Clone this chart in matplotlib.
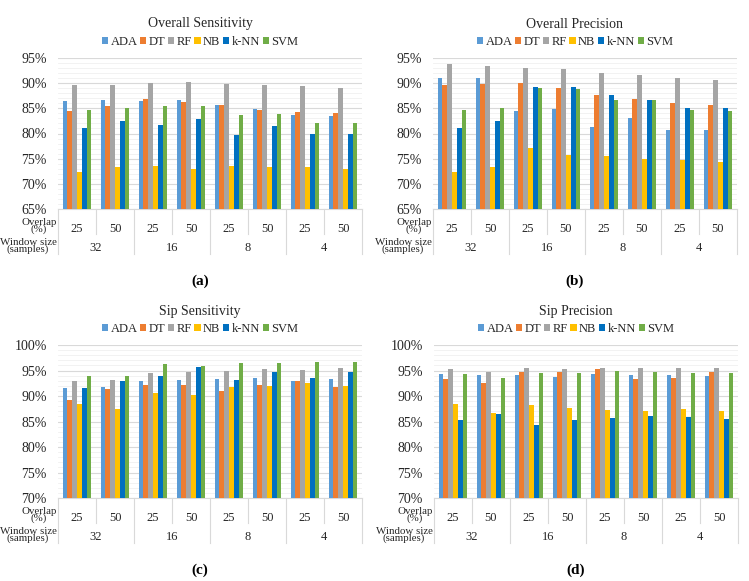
import numpy as np
import matplotlib.pyplot as plt
from matplotlib.ticker import MultipleLocator, FuncFormatter

plt.rcParams["font.family"] = ["Liberation Serif", "DejaVu Serif"]

# -----------------------------
# Data (values in %)
# -----------------------------
classifiers = ["ADA", "DT", "RF", "NB", "k-NN", "SVM"]
colors = ["#5B9BD5", "#ED7D31", "#A5A5A5", "#FFC000", "#0070C0", "#70AD47"]
overlaps = ["25", "50", "25", "50", "25", "50", "25", "50"]
window_sizes = ["32", "16", "8", "4"]

# overall sensitivity
os_ada = [86.4, 86.7, 86.4, 86.7, 85.7, 84.8, 83.6, 83.5]
os_dt = [84.4, 85.5, 86.8, 86.2, 85.7, 84.7, 84.3, 84.0]
os_rf = [89.6, 89.6, 90.1, 90.3, 89.9, 89.6, 89.5, 89.1]
os_nb = [72.3, 73.3, 73.6, 73.0, 73.5, 73.4, 73.3, 72.9]
os_knn = [81.1, 82.4, 81.7, 82.8, 79.7, 81.5, 80.0, 79.9]
os_svm = [84.6, 85.1, 85.4, 85.4, 83.6, 83.9, 82.1, 82.1]

# overall precision
op_ada = [91.1, 91.0, 84.4, 84.8, 81.2, 83.0, 80.7, 80.7]
op_dt = [89.6, 89.9, 90.0, 89.0, 87.7, 86.9, 86.0, 85.6]
op_rf = [93.8, 93.5, 93.0, 92.9, 92.0, 91.6, 91.1, 90.6]
op_nb = [72.3, 73.3, 77.1, 75.7, 75.5, 75.0, 74.7, 74.3]
op_knn = [81.0, 82.4, 89.3, 89.3, 87.7, 86.7, 85.1, 85.0]
op_svm = [84.6, 85.1, 89.0, 88.8, 86.6, 86.6, 84.7, 84.5]

# sip sensitivity
ss_ada = [91.6, 91.7, 92.9, 93.1, 93.3, 93.5, 92.9, 93.3]
ss_dt = [89.3, 91.3, 92.1, 92.1, 90.9, 92.1, 92.9, 91.8]
ss_rf = [92.9, 93.1, 94.6, 94.8, 94.9, 95.3, 95.1, 95.5]
ss_nb = [88.5, 87.5, 90.5, 90.1, 91.7, 91.9, 92.5, 92.0]
ss_knn = [91.6, 92.9, 94.0, 95.7, 93.1, 94.8, 93.5, 94.7]
ss_svm = [94.0, 94.0, 96.3, 95.8, 96.5, 96.5, 96.7, 96.7]

# sip precision
sp_ada = [94.3, 94.1, 94.1, 93.8, 94.4, 94.2, 94.2, 94.0]
sp_dt = [93.3, 92.5, 94.7, 94.7, 95.3, 93.3, 93.6, 94.7]
sp_rf = [95.3, 94.7, 95.5, 95.3, 95.5, 95.5, 95.4, 95.5]
sp_nb = [88.5, 86.7, 88.2, 87.7, 87.3, 87.0, 87.4, 87.0]
sp_knn = [85.3, 86.5, 84.4, 85.3, 85.7, 86.0, 85.9, 85.4]
sp_svm = [94.3, 93.6, 94.6, 94.5, 94.9, 94.7, 94.6, 94.6]

panels = [
    ("Overall Sensitivity", "(a)", [os_ada, os_dt, os_rf, os_nb, os_knn, os_svm], (65, 95)),
    ("Overall Precision", "(b)", [op_ada, op_dt, op_rf, op_nb, op_knn, op_svm], (65, 95)),
    ("Sip Sensitivity", "(c)", [ss_ada, ss_dt, ss_rf, ss_nb, ss_knn, ss_svm], (70, 100)),
    ("Sip Precision", "(d)", [sp_ada, sp_dt, sp_rf, sp_nb, sp_knn, sp_svm], (70, 100)),
]

# -----------------------------
# Layout (pixel boxes of the plot areas)
# -----------------------------
W, H = 749, 581
boxes = [
    (58, 58, 362, 209),
    (433, 58, 737, 209),
    (58, 345, 362, 498),
    (434, 345, 738, 498),
]
GRID_MAJOR = "#D9D9D9"
GRID_MINOR = "#F0F0F0"
LINE = "#D9D9D9"
TXT = "#262626"

fig = plt.figure(figsize=(W / 100, H / 100), dpi=100)

x = np.arange(len(overlaps))
bw = 0.126

for (title, tag, series, ylim), (l, t, r, b) in zip(panels, boxes):
    ax = fig.add_axes([l / W, 1 - b / H, (r - l) / W, (b - t) / H])
    for i, (vals, col) in enumerate(zip(series, colors)):
        ax.bar(x + (i - 2.5) * bw, vals, width=bw, color=col,
               label=classifiers[i], zorder=3)

    ax.set_xlim(-0.5, len(overlaps) - 0.5)
    ax.set_ylim(*ylim)
    ax.yaxis.set_major_locator(MultipleLocator(5))
    ax.yaxis.set_minor_locator(MultipleLocator(1))
    ax.yaxis.set_major_formatter(FuncFormatter(lambda v, p: f"{v:.0f}%"))
    ax.grid(axis="y", which="major", color=GRID_MAJOR, linewidth=0.8, zorder=0)
    ax.grid(axis="y", which="minor", color=GRID_MINOR, linewidth=0.6, zorder=0)
    ax.tick_params(axis="y", which="both", length=0, labelsize=10, pad=8,
                   labelcolor=TXT)
    ax.set_xticks([])
    for s in ["top", "right", "left"]:
        ax.spines[s].set_visible(False)
    ax.spines["bottom"].set_color(LINE)

    # category table below the axis
    tr = ax.get_xaxis_transform()
    h_px = b - t
    for k, lab in enumerate(overlaps):
        ax.text(k, -20 / h_px, lab, transform=tr, ha="center", va="center",
                fontsize=9, color=TXT)
    for k, lab in enumerate(window_sizes):
        ax.text(2 * k + 0.5, -39 / h_px, lab, transform=tr, ha="center",
                va="center", fontsize=9, color=TXT)
    for k in range(len(overlaps) + 1):
        bound = k - 0.5
        y_end = -45 / h_px if k % 2 == 0 else -25 / h_px
        ax.plot([bound, bound], [0, y_end], transform=tr, color=LINE,
                linewidth=0.8, clip_on=False)
    ax.text(-0.54, -17 / h_px, "Overlap\n(%)", transform=tr, ha="right",
            va="center", multialignment="center", fontsize=7.8,
            linespacing=0.78, color=TXT)
    ax.text(-0.54, -37 / h_px, "Window size\n(samples)", transform=tr,
            ha="right", va="center", multialignment="center", fontsize=7.8,
            linespacing=0.78, color=TXT)

    # title, legend and panel tag
    cx = (l + r) / 2 - 10
    fig.text(cx / W, 1 - (t - 34) / H, title, ha="center", va="center",
             fontsize=10, color=TXT)
    ax.legend(loc="center", bbox_to_anchor=((cx - l) / (r - l), 1 + 16 / h_px),
              ncol=6, frameon=False, fontsize=9, handlelength=0.5,
              handleheight=0.5, handletextpad=0.2, columnspacing=0.2,
              borderaxespad=0, labelcolor=TXT)
    fig.text(cx / W, 1 - (b + 72) / H, tag, ha="center", va="center",
             fontsize=11, fontweight="bold")

fig.savefig("out.png", dpi=100)
